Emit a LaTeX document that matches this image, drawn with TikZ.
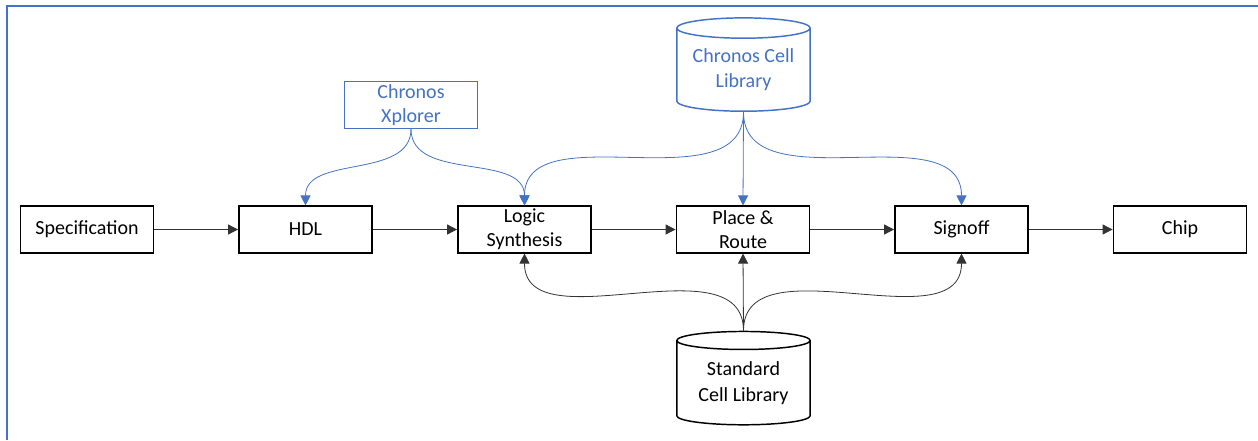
\documentclass[tikz,border=0pt]{standalone}
\usepackage{fontspec}
\setmainfont{Carlito}
\usetikzlibrary{shapes.geometric,arrows.meta}
\definecolor{chronos}{HTML}{4472C4}
\begin{document}
\begin{tikzpicture}[x=0.75pt, y=0.75pt,
    stage/.style={draw, line width=1.1pt, minimum width=100pt, minimum height=35pt,
      inner sep=0pt, align=center, font=\fontsize{15}{18}\selectfont},
    tool/.style={stage, draw=chronos, text=chronos, line width=0.9pt},
    libdb/.style={cylinder, shape border rotate=90, aspect=0.2, draw, line width=1.1pt,
      minimum width=100pt, minimum height=70pt, inner sep=0pt, align=center,
      font=\fontsize{15}{19}\selectfont},
    flow/.style={draw=black!80, line width=0.6pt, -{Triangle[length=7.5pt,width=7.5pt]}},
    feed/.style={flow, draw=chronos}]
      \useasboundingbox (0, 0) rectangle (1258, 440);
      \draw[chronos, line width=1.5pt] (7, 0) -- (7, 434) -- (1258, 434);
      \begin{scope}
        \node[stage] (spec) at (87, 210.5) {Specification};
        \node[stage] (hdl) at (305.5, 210.5) {HDL};
        \node[stage] (logic) at (524.5, 210.5) {Logic\\Synthesis};
        \node[stage] (pnr) at (743, 210.5) {Place \&\\Route};
        \node[stage] (signoff) at (961.5, 210.5) {Signoff};
        \node[stage] (chip) at (1180, 210.5) {Chip};
        \node[tool] (xplorer) at (411, 335) {Chronos\\Xplorer};
        \node[libdb, draw=chronos, text=chronos] (chronoslib) at (743.5, 370) {Chronos Cell\\Library};
        \node[libdb] (stdlib) at (743.5, 57) {Standard\\Cell Library};
        \draw[flow] (spec) -- (hdl);
        \draw[flow] (hdl) -- (logic);
        \draw[flow] (logic) -- (pnr);
        \draw[flow] (pnr) -- (signoff);
        \draw[flow] (signoff) -- (chip);
        \draw[feed] (xplorer.south) to[out=-90, in=90] (hdl.north);
        \draw[feed] (xplorer.south) to[out=-90, in=90] (logic.north);
        \draw[feed] (chronoslib.south) to[out=-90, in=90] (logic.north);
        \draw[feed] (chronoslib.south) -- (pnr.north);
        \draw[feed] (chronoslib.south) to[out=-90, in=90] (signoff.north);
        \draw[flow] (stdlib.north) to[out=90, in=-90] (logic.south);
        \draw[flow] (stdlib.north) -- (pnr.south);
        \draw[flow] (stdlib.north) to[out=90, in=-90] (signoff.south);
      \end{scope}
    \end{tikzpicture}
\end{document}
